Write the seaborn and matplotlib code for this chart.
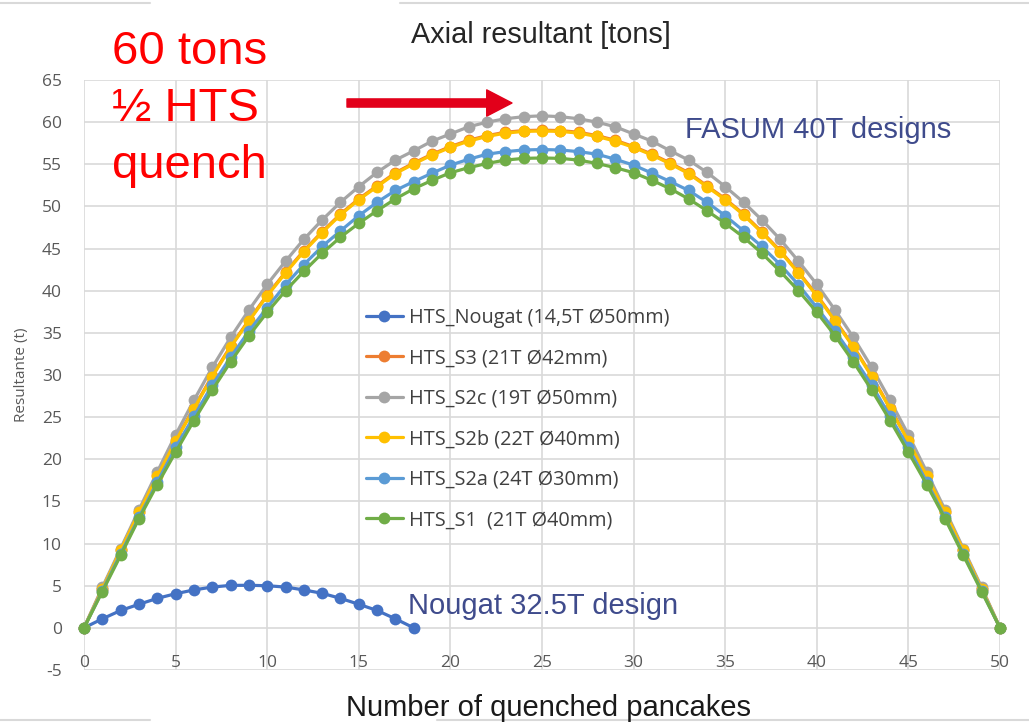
import matplotlib
matplotlib.use("Agg")
import matplotlib.pyplot as plt
from matplotlib.lines import Line2D
import seaborn as sns
import pandas as pd

# ---------------- data ----------------
x_nougat = list(range(0, 19))
nougat = [0, 1.07, 2.06, 2.8, 3.5, 4.05, 4.5, 4.84, 5.04, 5.05, 5.0, 4.84, 4.5, 4.1, 3.5, 2.8, 2.06, 1.07, 0]

x_s = list(range(0, 51))
s3 = [0, 4.65, 9.25, 13.8, 18.1, 22.25, 26.1, 29.9, 33.4, 36.5, 39.5, 42.2, 44.75, 47.0, 49.1,
      50.9, 52.45, 54.0, 55.15, 56.2, 57.1, 57.85, 58.4, 58.8, 59.0, 59.05,
      59.0, 58.8, 58.4, 57.85, 57.1, 56.2, 55.15, 54.0, 52.45, 50.9, 49.1, 47.0, 44.75, 42.2,
      39.5, 36.5, 33.4, 29.9, 26.1, 22.25, 18.1, 13.8, 9.25, 4.65, 0]
s2c = [0, 4.8, 9.4, 14.0, 18.5, 22.9, 27.0, 30.9, 34.45, 37.7, 40.75, 43.5, 46.1, 48.4, 50.5,
       52.35, 54.05, 55.5, 56.6, 57.75, 58.6, 59.45, 60.0, 60.4, 60.65, 60.75,
       60.65, 60.4, 60.0, 59.45, 58.6, 57.75, 56.6, 55.5, 54.05, 52.35, 50.5, 48.4, 46.1, 43.5,
       40.75, 37.7, 34.45, 30.9, 27.0, 22.9, 18.5, 14.0, 9.4, 4.8, 0]
s2b = [0, 4.6, 9.2, 13.7, 18.0, 22.15, 26.0, 29.8, 33.3, 36.4, 39.4, 42.1, 44.65, 46.9, 49.0,
       50.8, 52.35, 53.9, 55.05, 56.1, 57.0, 57.75, 58.3, 58.7, 58.9, 58.95,
       58.9, 58.7, 58.3, 57.75, 57.0, 56.1, 55.05, 53.9, 52.35, 50.8, 49.0, 46.9, 44.65, 42.1,
       39.4, 36.4, 33.3, 29.8, 26.0, 22.15, 18.0, 13.7, 9.2, 4.6, 0]
s2a = [0, 4.4, 8.8, 13.1, 17.3, 21.4, 25.1, 28.8, 32.1, 35.2, 38.0, 40.7, 43.1, 45.25, 47.1,
       48.9, 50.5, 51.9, 52.95, 53.95, 54.9, 55.6, 56.2, 56.5, 56.7, 56.75,
       56.7, 56.5, 56.2, 55.6, 54.9, 53.95, 52.95, 51.9, 50.5, 48.9, 47.1, 45.25, 43.1, 40.7,
       38.0, 35.2, 32.1, 28.8, 25.1, 21.4, 17.3, 13.1, 8.8, 4.4, 0]
s1 = [0, 4.3, 8.6, 12.95, 17.0, 20.85, 24.6, 28.2, 31.55, 34.65, 37.45, 40.0, 42.3, 44.45, 46.35,
      48.0, 49.5, 50.9, 52.1, 53.1, 54.0, 54.6, 55.1, 55.5, 55.7, 55.75,
      55.7, 55.5, 55.1, 54.6, 54.0, 53.1, 52.1, 50.9, 49.5, 48.0, 46.35, 44.45, 42.3, 40.0,
      37.45, 34.65, 31.55, 28.2, 24.6, 20.85, 17.0, 12.95, 8.6, 4.3, 0]

series_names = ["HTS_Nougat (14,5T Ø50mm)", "HTS_S3 (21T Ø42mm)", "HTS_S2c (19T Ø50mm)",
                "HTS_S2b (22T Ø40mm)", "HTS_S2a (24T Ø30mm)", "HTS_S1  (21T Ø40mm)"]
series_colors = ["#4472C4", "#ED7D31", "#A5A5A5", "#FFC000", "#5B9BD5", "#70AD47"]

x_ticks = list(range(0, 51, 5))
y_ticks = list(range(-5, 66, 5))

title = "Axial resultant [tons]"
x_label = "Number of quenched pancakes"
y_label = "Resultante (t)"
red_note = ["60 tons", "½ HTS", "quench"]
fasum_note = "FASUM 40T designs"
nougat_note = "Nougat 32.5T design"

# ---------------- long table ----------------
rows = []
for xv, yv in zip(x_nougat, nougat):
    rows.append((series_names[0], xv, yv))
for name, vals in zip(series_names[1:], [s3, s2c, s2b, s2a, s1]):
    for xv, yv in zip(x_s, vals):
        rows.append((name, xv, yv))
df = pd.DataFrame(rows, columns=["series", "x", "y"])

# ---------------- figure ----------------
sns.set_theme(style="white")
plt.rcParams["font.family"] = ["Open Sans", "DejaVu Sans"]
plt.rcParams["axes.unicode_minus"] = False

W, H = 1029, 725
fig = plt.figure(figsize=(W / 100, H / 100), dpi=100)
ax = fig.add_axes([84 / W, 55 / H, 916 / W, 590 / H])

sns.lineplot(data=df, x="x", y="y", hue="series", hue_order=series_names,
             palette=dict(zip(series_names, series_colors)),
             marker="o", markersize=8.5, markeredgewidth=0, linewidth=2.3,
             ax=ax, legend=False, sort=False, clip_on=False)

ax.set_xlim(0, 50)
ax.set_ylim(-5, 65)
ax.set_xticks(x_ticks)
ax.set_yticks(y_ticks)
ax.grid(True, color="#D9D9D9", linewidth=1.2)
ax.set_axisbelow(True)
for sp in ax.spines.values():
    sp.set_visible(False)
ax.set_xlabel("")
ax.set_ylabel(y_label, fontsize=11, color="#595959", labelpad=9)
ax.tick_params(axis="both", length=0, labelsize=12.5, labelcolor="#595959")
ax.tick_params(axis="x", pad=-11)
ax.tick_params(axis="y", pad=16)

# legend
handles = [Line2D([0], [0], color=c, marker="o", markersize=8.5, markeredgewidth=0, linewidth=2.3)
           for c in series_colors]
leg = ax.legend(handles, series_names, loc="upper left", bbox_to_anchor=(356 / W, 1 - 298 / H),
                bbox_transform=fig.transFigure, frameon=False, fontsize=14.3,
                labelspacing=1.03, handlelength=1.85, handletextpad=0.3, borderpad=0)
for t in leg.get_texts():
    t.set_color("#404040")

# texts
fig.text(541 / W, 1 - 35 / H, title, ha="center", va="center", fontsize=20.8,
         family=["Liberation Sans", "DejaVu Sans"], color="#262626")
fig.text(549 / W, 1 - 708 / H, x_label, ha="center", va="center", fontsize=21,
         family=["Liberation Sans", "DejaVu Sans"], color="#1a1a1a")
for i, line in enumerate(red_note):
    fig.text(112 / W, 1 - (52 + 57 * i) / H, line, ha="left", va="center", fontsize=34,
             family=["Liberation Sans", "DejaVu Sans"], color="#FF0000")
fig.text(685 / W, 1 - 130 / H, fasum_note, ha="left", va="center", fontsize=21,
         family=["Liberation Sans", "DejaVu Sans"], color="#3F4B8C")
fig.text(408 / W, 1 - 606 / H, nougat_note, ha="left", va="center", fontsize=21,
         family=["Liberation Sans", "DejaVu Sans"], color="#3F4B8C")

# red arrow
ax.annotate("", xy=(512, H - 103), xytext=(347, H - 103),
            xycoords="figure pixels", textcoords="figure pixels",
            arrowprops=dict(arrowstyle="simple,head_length=1.3,head_width=1.35,tail_width=0.42",
                            color="#E2001A", mutation_scale=14, shrinkA=0, shrinkB=0))

# slide decoration lines
for (x0, x1, yy) in [(0, 150, 3), (400, 1029, 3), (0, 150, 720), (437, 1029, 720)]:
    fig.add_artist(Line2D([x0 / W, x1 / W], [1 - yy / H, 1 - yy / H], color="#D9D9D9",
                          linewidth=1.5, transform=fig.transFigure))

fig.savefig("out.png", dpi=100)
